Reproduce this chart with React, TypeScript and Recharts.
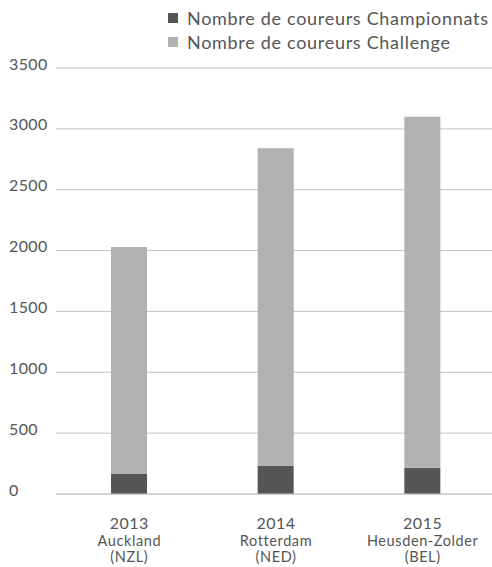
import { BarChart, Bar, XAxis, YAxis, CartesianGrid } from "recharts";

const years = ["2013", "2014", "2015"];
const cities = ["Auckland", "Rotterdam", "Heusden-Zolder"];
const countries = ["(NZL)", "(NED)", "(BEL)"];
const championnats = [165, 232, 216];
const challenge = [1865, 2608, 2884];
const yTicks = [0, 500, 1000, 1500, 2000, 2500, 3000, 3500];
const seriesNames = ["Nombre de coureurs Championnats", "Nombre de coureurs Challenge"];
const seriesColors = ["#555553", "#b1b1b1"];

const data = years.map((y, i) => ({
  year: y,
  city: cities[i],
  country: countries[i],
  championnats: championnats[i],
  challenge: challenge[i],
}));

const FONT = "Lato, sans-serif";
const TEXT = "#555555";

function YTick(props: any) {
  const { y, payload } = props;
  return (
    <text x={9} y={y - 4} dy="0.35em" fill={TEXT} fontSize={16} fontFamily={FONT} letterSpacing={0.4} textAnchor="start">
      {payload.value}
    </text>
  );
}

function XTick(props: any) {
  const { x, payload, index } = props;
  const i = index ?? years.indexOf(payload.value);
  return (
    <g>
      <text x={x} y={529} fill={TEXT} fontSize={16} fontFamily={FONT} letterSpacing={0.5} textAnchor="middle">
        {payload.value}
      </text>
      <text x={x} y={546} fill={TEXT} fontSize={14.5} fontFamily={FONT} letterSpacing={0.6} textAnchor="middle">
        {cities[i]}
      </text>
      <text x={x} y={562} fill={TEXT} fontSize={14.5} fontFamily={FONT} letterSpacing={0.6} textAnchor="middle">
        {countries[i]}
      </text>
    </g>
  );
}

export default function App() {
  return (
    <div
      style={{
        position: "absolute",
        left: 0,
        top: 0,
        width: 492,
        height: 567,
        overflow: "hidden",
        background: "#fff",
        fontFamily: FONT,
      }}
    >
      <div style={{ position: "absolute", left: 168, top: 6, zIndex: 1 }}>
        {seriesNames.map((name, i) => (
          <div
            key={name}
            style={{
              display: "flex",
              alignItems: "center",
              height: 24,
              color: TEXT,
              fontSize: 18,
              letterSpacing: 0.7,
              whiteSpace: "nowrap",
            }}
          >
            <span
              style={{
                display: "inline-block",
                width: 10,
                height: 10,
                background: seriesColors[i],
                marginRight: 9,
              }}
            />
            {name}
          </div>
        ))}
      </div>
      <BarChart
        width={496}
        height={567}
        data={data}
        margin={{ top: 68, right: 0, bottom: 0, left: 0 }}
        barSize={36}
      >
        <CartesianGrid vertical={false} stroke="#c4c4c4" />
        <XAxis
          dataKey="year"
          height={73}
          axisLine={{ stroke: "#c4c4c4" }}
          tickLine={false}
          tick={<XTick />}
          interval={0}
        />
        <YAxis
          width={56}
          domain={[0, 3500]}
          ticks={yTicks}
          axisLine={false}
          tickLine={false}
          tick={<YTick />}
        />
        <Bar dataKey="championnats" stackId="a" fill={seriesColors[0]} isAnimationActive={false} />
        <Bar dataKey="challenge" stackId="a" fill={seriesColors[1]} isAnimationActive={false} />
      </BarChart>
    </div>
  );
}
